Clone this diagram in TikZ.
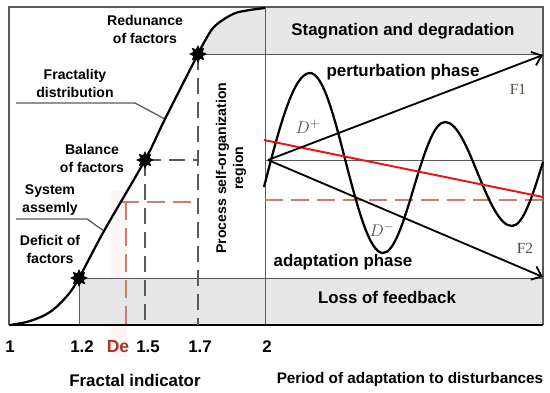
\documentclass[tikz,border=0pt]{standalone}
\usepackage{fontspec}
\setmainfont{Liberation Sans}
\newfontfamily\serifF{Liberation Serif}
\usetikzlibrary{shapes.geometric,arrows.meta,positioning,calc}
\definecolor{bandgray}{RGB}{231,231,231}
\definecolor{linegray}{RGB}{90,90,90}
\definecolor{dered}{RGB}{165,55,35}
\definecolor{dashred}{RGB}{205,125,110}
\definecolor{hotred}{RGB}{235,20,25}
\definecolor{fgray}{RGB}{80,80,70}

\begin{document}
\begin{tikzpicture}[x=0.25mm,y=-0.25mm,
  lbl/.style={font=\bfseries\fontsize{10}{12.8}\selectfont,align=center,inner sep=0pt},
  big/.style={font=\bfseries\fontsize{12}{14}\selectfont,inner sep=0pt},
  grid/.style={linegray,line width=0.7pt},
  dsh/.style={linegray,line width=1pt,dash pattern=on 4mm off 2mm},
  rdsh/.style={dashred,line width=1pt,dash pattern=on 4.5mm off 2mm},
  curve/.style={line width=1.6pt,line join=round},
  starm/.style={star,star points=8,star point ratio=1.7,fill=black,minimum size=4.4mm,inner sep=0pt},
  arr/.style={-{Straight Barb[length=2.2mm,width=3.6mm]},line width=1.3pt}
]
  \useasboundingbox (0,0) rectangle (550,393);

  \coordinate (def) at (79,278);
  \coordinate (bal) at (145,160);
  \coordinate (red) at (198,54);
  \coordinate (fd)  at (165,119);
  \coordinate (sa)  at (104,231);
  \coordinate (o)   at (268,160);
  \coordinate (f1)  at (543,55);
  \coordinate (f2)  at (543,277);

  \fill[red!4] (111,190) rectangle (127,357);
  \fill[bandgray] (def) rectangle (543,325);
  \fill[bandgray] plot[smooth] coordinates {(198,54) (213,28) (233,14) (250,10) (265,8)}
    -- (265,7) -- (543,7) -- (543,54) -- cycle;

  \draw[grid] (def) -- (543,278);
  \draw[grid] (def) -- (79,325);
  \draw[grid] (red) -- (543,54);
  \draw[grid] (265,7) -- (265,325);
  \draw[grid] (265,160) -- (543,160);
  \draw[linegray,line width=1pt] (9,325) -- (9,7) -- (543,7) -- (543,325);
  \draw[line width=1.2pt] (9,325) -- (543,325);

  \draw[dsh] (bal) -- (198,160);
  \draw[dsh] (bal) -- (145,325);
  \draw[dsh] (red) -- (198,325);
  \draw[rdsh] (126,202) -- (126,325);
  \draw[rdsh] (121,202) -- (198,202);
  \draw[rdsh] (265,200) -- (543,200);

  \draw[grid,line width=0.9pt] (16,103) -- (135,103) -- (fd);
  \draw[grid,line width=0.9pt] (16,219) -- (87,219) -- (sa);

  \draw[curve] plot[smooth,tension=0.6] coordinates {(10,325) (30,321) (50,312) (67,296) (79,278)
    (104,231) (145,160) (165,119) (198,54)};
  \draw[curve] plot[smooth] coordinates {(198,54) (213,28) (233,14) (250,10) (265,8)};

  \node[starm] (sdef) at (def) {};
  \node[starm] (sbal) at (bal) {};
  \node[starm] (sred) at (red) {};

  \draw[curve] (264,187) sin (310,73) cos (346,163) sin (383,253) cos (414,187)
    sin (445,122) cos (478,174) sin (512,226) cos (543,162);
  \draw[hotred,line width=1.4pt] (264,140) -- (543,197);
  \draw[arr] (o) -- (f1);
  \draw[arr] (o) -- (f2);

  \node[lbl] (redund)  at (145,29)  {Redunance\\of factors};
  \node[lbl] (fractd)  at (75,83)   {Fractality\\distribution};
  \node[lbl] (balance) at (92,158)  {Balance\\of factors};
  \node[lbl] (sysas)   at (50,200)  {System\\assemly};
  \node[lbl] (deficit) at (50,249)  {Deficit of\\factors};
  \node[lbl,rotate=90,font=\bfseries\fontsize{10}{12}\selectfont] (procreg) at (231,168)
    {Process self-organization\\region};

  \node[big] (stag)  at (403,31)  {Stagnation and degradation};
  \node[big] (pert)  at (403,72)  {perturbation phase};
  \node[big] (adapt) at (343,262) {adaptation phase};
  \node[big] (loss)  at (387,297) {Loss of feedback};
  \node[font=\serifF\fontsize{11}{13}\selectfont,text=fgray] (lf1) at (518,89)  {F1};
  \node[font=\serifF\fontsize{11}{13}\selectfont,text=fgray] (lf2) at (525,248) {F2};
  \node[font=\fontsize{13}{15}\selectfont,text=fgray] (dp) at (308,127) {$D^{+}$};
  \node[font=\fontsize{13}{15}\selectfont,text=fgray] (dm) at (382,230) {$D^{-}$};

  \node[big] (t1)  at (10,347)  {1};
  \node[big] (t12) at (82,347)  {1.2};
  \node[big,text=dered,font=\bfseries\fontsize{12.5}{14}\selectfont] (tde) at (118,347) {De};
  \node[big] (t15) at (148,347) {1.5};
  \node[big] (t17) at (200,347) {1.7};
  \node[big] (t2)  at (267,347) {2};
  \node[big] (xfrac) at (135,380) {Fractal indicator};
  \node[big,font=\bfseries\fontsize{10.9}{13}\selectfont] (xper) at (410,380) {Period of adaptation to disturbances};
\end{tikzpicture}
\end{document}
